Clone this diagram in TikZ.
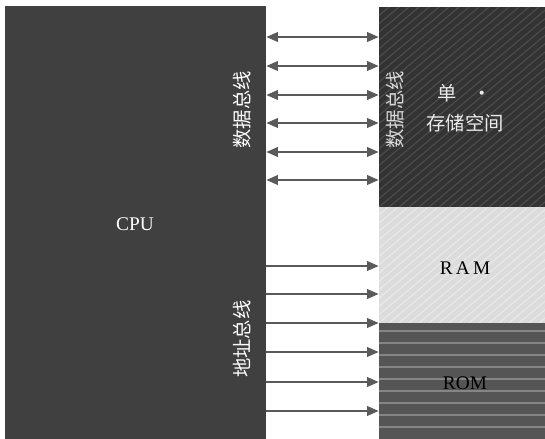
\documentclass[tikz,border=0pt]{standalone}
\usepackage{fontspec}
\setmainfont{Liberation Serif}
\newfontfamily\cjk{Noto Sans CJK SC}
\usetikzlibrary{positioning,arrows.meta,calc}
\definecolor{cpugray}{HTML}{404040}
\definecolor{spacegray}{HTML}{333333}
\definecolor{ramgray}{HTML}{DCDCDC}
\definecolor{romgray}{HTML}{555555}
\definecolor{wire}{HTML}{5A5A5A}
\tikzset{
  blk/.style ={rectangle, draw=none, inner sep=0pt, font=\fontsize{11}{13}\selectfont},
  cpu/.style ={blk, fill=cpugray, text=white, minimum width=5.22cm, minimum height=8.66cm},
  diag/.style={path picture={
      \foreach \k in {-30,...,22}
        \draw[#1, line width=0.6pt] ($(path picture bounding box.south west)+(\k*0.2cm,0cm)$) -- ++(6cm,5cm);}},
  hline/.style={path picture={
      \foreach \k in {1,...,9}
        \draw[#1, line width=0.7pt] ($(path picture bounding box.north west)+(0cm,-\k*0.24cm+0.08cm)$) -- ++(4cm,0cm);}},
  space/.style={blk, fill=spacegray, diag=white!13!spacegray, minimum width=3.32cm, minimum height=4cm},
  ram/.style ={blk, fill=ramgray, diag=white!40!ramgray, minimum width=3.32cm, minimum height=2.32cm},
  rom/.style ={blk, fill=romgray, hline=white!28!romgray, minimum width=3.32cm, minimum height=2.32cm},
  vlab/.style={rotate=90, text=white, inner sep=0pt, font=\cjk\fontsize{11}{11}\selectfont},
  txt/.style ={inner sep=0pt, align=center},
  bus/.style ={{Triangle[length=2.3mm,width=1.9mm]}-{Triangle[length=2.3mm,width=1.9mm]}, line width=1.1pt, wire},
  addr/.style={-{Triangle[length=2.3mm,width=1.9mm]}, line width=1.1pt, wire},
}
\begin{document}
\begin{tikzpicture}[x=0.02cm, y=-0.02cm]
  \useasboundingbox[fill=white] (0,0) rectangle (545,439);
  % blocks
  \node[cpu]   (cpu) at (135.5,222.5) {};
  \node[space] (sp)  at (462,107) {};
  \node[ram]   (ram) at (462,265) {};
  \node[rom]   (rom) at (462,381) {};
  % texts
  \node[txt, text=white, font=\fontsize{11}{13}\selectfont] (cpulab) at (135,224) {CPU};
  \node[txt, text=black, font=\fontsize{11}{13}\selectfont] (ramlab) at (465,268) {R\,A\,M};
  \node[txt, text=black, font=\fontsize{11}{13}\selectfont] (romlab) at (465,383) {ROM};
  \node[txt, text=white!92!black, font=\cjk\fontsize{11}{17}\selectfont] (splab) at (465,108) {单\hspace{0.8em}·\\存储空间};
  \node[vlab] (dbl) at (242,110) {数据总线};
  \node[vlab, text=white!85!black] (dbr) at (395,110) {数据总线};
  \node[vlab] (abl) at (242,339) {地址总线};
  % buses
  \foreach \y in {37,66,95,123,152,180}
    \draw[bus] (cpu.east |- 0,\y) -- (sp.west |- 0,\y);
  \foreach \y in {266,294,323,352,382,411}
    \draw[addr] (cpu.east |- 0,\y) -- (ram.west |- 0,\y);
\end{tikzpicture}
\end{document}
